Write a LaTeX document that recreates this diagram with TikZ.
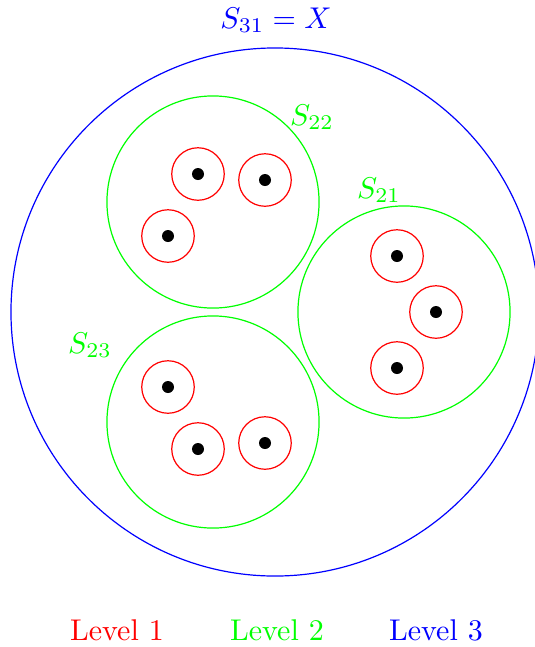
\documentclass[tikz,border=0pt]{standalone}
\usetikzlibrary{positioning}
\begin{document}
\begin{tikzpicture}[x=0.3333pt,y=-0.3333pt,
  bigset/.style={circle,draw=blue,inner sep=0pt,minimum size=176pt},
  midset/.style={circle,draw=green,inner sep=0pt,minimum size=70.7pt},
  smallset/.style={circle,draw=red,inner sep=0pt,minimum size=17.5pt},
  pt/.style={circle,fill=black,inner sep=0pt,minimum size=4pt}]
\useasboundingbox (0,0) rectangle (534,647);
\node[bigset] (X) at (275,312) {};
\node[midset] (S22) at (213,202) {};
\node[midset] (S23) at (213,422) {};
\node[midset] (S21) at (404,312) {};
% S22 singletons
\foreach \n/\x/\y in {a/198/174, b/265/180, c/168/236,
                       d/397/256, e/436/312, f/397/368,
                       g/168/387, h/198/449, i/265/443}{
  \node[smallset] (r\n) at (\x,\y) {};
  \node[pt] (p\n) at (r\n) {};
}
\node[text=blue] (LX) at (276,20) {$S_{31}=X$};
\node[text=green] (L22) at (312,117) {$S_{22}$};
\node[text=green] (L21) at (379,190) {$S_{21}$};
\node[text=green] (L23) at (90,345) {$S_{23}$};
\node[text=red] (lv1) at (117,630) {Level 1};
\node[text=green] (lv2) at (277,630) {Level 2};
\node[text=blue] (lv3) at (436,630) {Level 3};
\end{tikzpicture}
\end{document}
